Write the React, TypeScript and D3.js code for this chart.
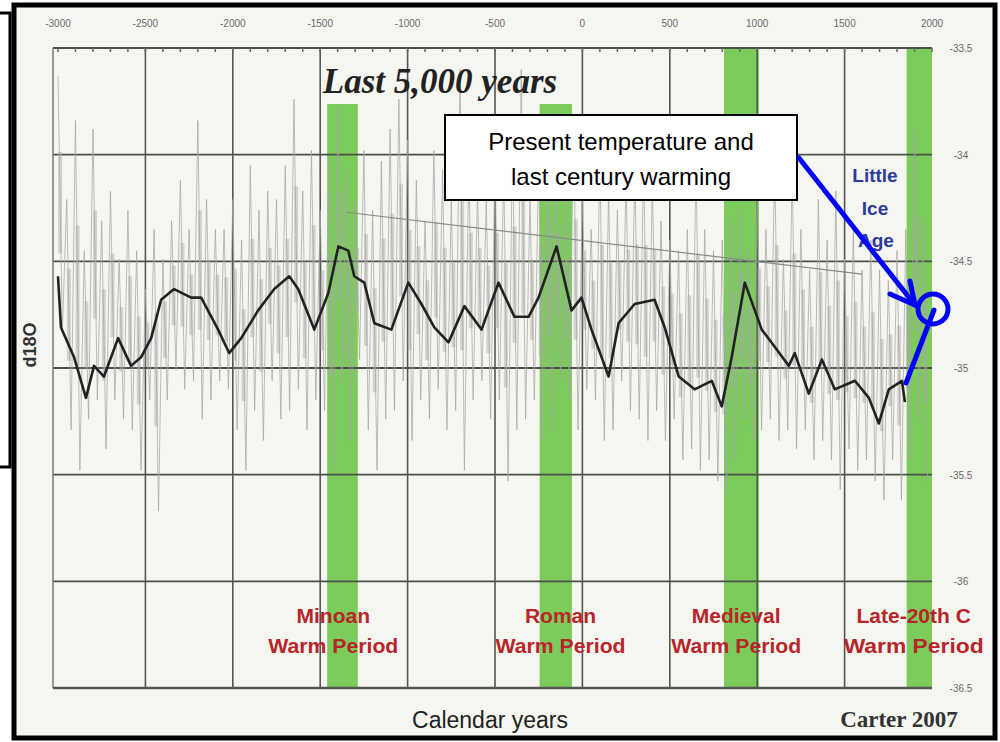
import React from "react";
import * as d3 from "d3";

// GISP2-style d18O record
const binYears = [
  -3000, -2950, -2900, -2850, -2800, -2750, -2700, -2650, -2600, -2550,
  -2500, -2450, -2400, -2350, -2300, -2250, -2200, -2150, -2100, -2050,
  -2000, -1950, -1900, -1850, -1800, -1750, -1700, -1650, -1600, -1550,
  -1500, -1450, -1400, -1350, -1300, -1250, -1200, -1150, -1100, -1050,
  -1000, -950, -900, -850, -800, -750, -700, -650, -600, -550,
  -500, -450, -400, -350, -300, -250, -200, -150, -100, -50,
  0, 50, 100, 150, 200, 250, 300, 350, 400, 450,
  500, 550, 600, 650, 700, 750, 800, 850, 900, 950,
  1000, 1050, 1100, 1150, 1200, 1250, 1300, 1350, 1400, 1450,
  1500, 1550, 1600, 1650, 1700, 1750, 1800, 1850, 1900, 1950,
];
const grayHigh = [
  -33.63, -34.21, -33.84, -34.45, -33.88, -34.31, -34.17, -34.49, -34.26, -34.45,
  -34.63, -34.35, -34.49, -34.31, -34.12, -34.35, -33.84, -34.21, -34.35, -34.35,
  -34.21, -34.4, -34.05, -34.26, -34.17, -34.21, -34.05, -33.74, -34.17, -33.98,
  -34.26, -34.03, -33.79, -34.07, -34.21, -33.98, -34.26, -34.03, -33.88, -33.74,
  -33.93, -34.12, -34.31, -33.98, -34.07, -34.21, -33.6, -34.03, -34.17, -34.21,
  -34.03, -34.07, -33.93, -33.6, -34.21, -34.03, -33.84, -34.07, -34.21, -33.88,
  -34.17, -34.35, -34.03, -34.17, -34.26, -34.12, -34.07, -34.03, -34.12, -34.31,
  -34.4, -34.45, -34.35, -34.03, -34.35, -34.45, -34.4, -34.31, -34.26, -34.45,
  -34.21, -34.35, -34.03, -34.49, -34.07, -34.35, -34.54, -34.21, -34.4, -34.17,
  -34.49, -34.35, -34.54, -34.4, -34.54, -34.59, -34.45, -34.35, -33.88, -34.31,
];
const grayLow = [
  -34.82, -35.29, -35.48, -35.24, -35.15, -35.38, -35.15, -35.24, -35.29, -35.48,
  -35.15, -35.67, -35.15, -35.01, -35.1, -35.06, -35.24, -35.15, -35.06, -35.1,
  -35.29, -35.48, -35.2, -35.34, -35.06, -35.24, -35.2, -35.1, -35.29, -35.15,
  -35.2, -35.48, -35.06, -35.34, -34.96, -35.29, -35.48, -35.24, -35.2, -35.06,
  -35.34, -35.15, -35.24, -35.1, -35.29, -35.2, -35.48, -35.15, -35.06, -35.24,
  -35.15, -35.53, -35.29, -35.24, -35.15, -35.34, -35.29, -35.06, -35.15, -35.29,
  -35.1, -35.15, -35.34, -35.29, -35.06, -35.2, -35.24, -35.34, -35.2, -35.34,
  -35.24, -35.43, -35.38, -35.48, -35.43, -35.53, -35.57, -35.43, -35.24, -35.34,
  -35.29, -35.24, -35.34, -35.29, -35.38, -35.29, -35.43, -35.34, -35.43, -35.57,
  -35.38, -35.48, -35.43, -35.53, -35.62, -35.43, -35.62, -35.43, -35.24, -35.53,
];

// smoothed curve (black)
const smoothYears = [
  -3000, -2983, -2908, -2840, -2794, -2737, -2656, -2582, -2525, -2467,
  -2410, -2336, -2238, -2181, -2084, -2021, -1952, -1855, -1763, -1677,
  -1626, -1534, -1454, -1396, -1339, -1305, -1248, -1190, -1093, -996,
  -921, -847, -766, -675, -577, -480, -389, -308, -251, -148,
  -62, -5, 52, 150, 207, 299, 413, 471, 551, 642,
  740, 797, 854, 929, 1026, 1100, 1181, 1215, 1295, 1370,
  1444, 1559, 1639, 1696, 1753, 1828, 1845,
];
const smoothValues = [
  -34.57, -34.81, -34.95, -35.14, -34.99, -35.04, -34.86, -34.99, -34.95, -34.86,
  -34.68, -34.63, -34.67, -34.67, -34.82, -34.93, -34.86, -34.73, -34.63, -34.57,
  -34.63, -34.82, -34.65, -34.43, -34.45, -34.57, -34.6, -34.79, -34.82, -34.6,
  -34.7, -34.81, -34.88, -34.71, -34.82, -34.6, -34.76, -34.76, -34.67, -34.43,
  -34.73, -34.67, -34.82, -35.04, -34.79, -34.7, -34.68, -34.81, -35.04, -35.1,
  -35.06, -35.18, -34.95, -34.6, -34.82, -34.9, -34.99, -34.93, -35.12, -34.96,
  -35.1, -35.06, -35.14, -35.26, -35.1, -35.06, -35.16,
];

const trendYears = [-1350, 1600];
const trendValues = [-34.27, -34.56];

const topTicks = [-3000, -2500, -2000, -1500, -1000, -500, 0, 500, 1000, 1500, 2000];
const rightTicks = [-33.5, -34, -34.5, -35, -35.5, -36, -36.5];
const rightTickLabels = ["-33.5", "-34", "-34.5", "-35", "-35.5", "-36", "-36.5"];

const periodNames = ["Minoan", "Roman", "Medieval", "Late-20th C"];
const periodStart = [-1460, -245, 810, 1855];
const periodEnd = [-1285, -60, 1010, 2000];
const periodLabelYear = [-1425, -125, 880, 1895];

const W = 1000;
const H = 742;
const plotLeft = 53;
const plotTop = 48;
const plotBottom = 688;

export default function App() {
  const x = d3.scaleLinear().domain([-3000, 2000]).range([58, 932]);
  const y = d3.scaleLinear().domain([-33.5, -36.5]).range([plotTop, plotBottom]);
  const plotRight = x(2000);

  // zig-zag through high / low readings
  const zig: [number, number][] = [];
  binYears.forEach((yr, i) => {
    zig.push([yr, grayHigh[i]]);
    zig.push([yr + 25, grayLow[i]]);
  });
  const line = d3
    .line<[number, number]>()
    .x((d) => x(d[0]))
    .y((d) => y(d[1]));
  const smooth = smoothYears.map((yr, i) => [yr, smoothValues[i]] as [number, number]);
  const trend = trendYears.map((yr, i) => [yr, trendValues[i]] as [number, number]);
  const minor = d3.range(-3000, 2001, 100);

  const red = "#b8252a";

  return (
    <svg
      width={W}
      height={H}
      style={{ position: "absolute", left: 0, top: 0, background: "#fff" }}
      fontFamily="Liberation Sans, Arial, sans-serif"
    >
      <rect x={14} y={5} width={981} height={733} fill="#f6f6f1" />

      {/* green warm-period bands */}
      {periodNames.map((n, i) => (
        <rect
          key={n}
          x={x(periodStart[i])}
          y={i < 2 ? 104 : plotTop}
          width={x(periodEnd[i]) - x(periodStart[i])}
          height={plotBottom - (i < 2 ? 104 : plotTop)}
          fill="#7ccc5c"
        />
      ))}

      {/* grid */}
      {rightTicks.map((v) => (
        <line key={"h" + v} x1={plotLeft} x2={plotRight} y1={y(v)} y2={y(v)} stroke="#4d4d4d" strokeWidth={1.8} />
      ))}
      {topTicks.slice(1, -1).map((t) => (
        <line key={"v" + t} x1={x(t)} x2={x(t)} y1={plotTop} y2={plotBottom} stroke="#555" strokeWidth={1.6} />
      ))}
      <line x1={plotLeft} x2={plotLeft} y1={plotTop} y2={plotBottom} stroke="#777" strokeWidth={1.5} />
      <line x1={plotLeft} x2={plotRight} y1={plotBottom} y2={plotBottom} stroke="#555" strokeWidth={2.5} />
      {minor.map((t) => (
        <line key={"m" + t} x1={x(t)} x2={x(t)} y1={plotTop} y2={plotTop + 4} stroke="#666" strokeWidth={1.5} />
      ))}

      {/* raw record */}
      {binYears.map((yr, i) => (
        <line
          key={"s" + yr}
          x1={x(yr + 12)}
          x2={x(yr + 12)}
          y1={y(grayHigh[i] - (grayHigh[i] - grayLow[i]) * 0.3)}
          y2={y(grayLow[i] + (grayHigh[i] - grayLow[i]) * 0.3)}
          stroke="#a8a8a8"
          strokeWidth={4}
          opacity={0.45}
        />
      ))}
      <path d={line(zig) ?? ""} fill="none" stroke="#a6a6a6" strokeWidth={1} opacity={0.75} />
      <path d={line(trend) ?? ""} fill="none" stroke="#8a8a8a" strokeWidth={1.2} />
      <path d={line(smooth) ?? ""} fill="none" stroke="#222" strokeWidth={2.6} strokeLinejoin="round" />

      {/* axis labels */}
      {topTicks.map((t) => (
        <text key={"tl" + t} x={x(t)} y={27} fontSize={10} fill="#6a6a6a" textAnchor="middle">
          {t}
        </text>
      ))}
      {rightTicks.map((v, i) => (
        <text key={"rl" + v} x={961} y={y(v) + 4} fontSize={10} fill="#6a6a6a" textAnchor="middle">
          {rightTickLabels[i]}
        </text>
      ))}
      <text
        transform="translate(36,345) rotate(-90)"
        textAnchor="middle"
        fontSize={18}
        fontWeight="bold"
        fill="#333"
      >
        d18O
      </text>
      <text x={490} y={728} textAnchor="middle" fontSize={23} fill="#222">
        Calendar years
      </text>
      <text x={899} y={727} textAnchor="middle" fontSize={23} fontWeight="bold" fill="#333" fontFamily="Liberation Serif, serif">
        Carter 2007
      </text>
      <text x={440} y={93} textAnchor="middle" fontSize={35} fontWeight="bold" fontStyle="italic" fill="#222" fontFamily="Liberation Serif, serif">
        Last 5,000 years
      </text>

      {/* period labels */}
      {periodNames.map((n, i) => (
        <g key={"pl" + n} fontSize={21} fontWeight="bold" fill={red} textAnchor="middle">
          <text x={x(periodLabelYear[i])} y={623}>{n}</text>
          <text x={x(periodLabelYear[i])} y={653} textLength={i === 3 ? 140 : 130} lengthAdjust="spacingAndGlyphs">
            Warm Period
          </text>
        </g>
      ))}

      {/* Little Ice Age */}
      <g fontSize={19} fontWeight="bold" fill="#2b3a9c" textAnchor="middle">
        <text x={875} y={182}>Little</text>
        <text x={875} y={215}>Ice</text>
        <text x={876} y={247}>Age</text>
      </g>

      {/* callout */}
      <rect x={445} y={115} width={352} height={85} fill="#fff" stroke="#000" strokeWidth={2} />
      <text x={621} y={150} textAnchor="middle" fontSize={24} fill="#000">
        Present temperature and
      </text>
      <text x={621} y={185} textAnchor="middle" fontSize={24} fill="#000">
        last century warming
      </text>
      <g stroke="#0000ff" strokeWidth={5} fill="none" strokeLinecap="round">
        <line x1={799} y1={158} x2={915} y2={305} />
        <polyline points="890,294 915,305 910,281" />
        <circle cx={933} cy={309} r={15} />
        <line x1={906} y1={383} x2={934} y2={310} />
      </g>

      {/* frame */}
      <rect x={14} y={5} width={981} height={733} fill="none" stroke="#000" strokeWidth={5} />
      <polyline points="0,13 10,13 10,467 0,467" fill="none" stroke="#000" strokeWidth={3} />
    </svg>
  );
}
